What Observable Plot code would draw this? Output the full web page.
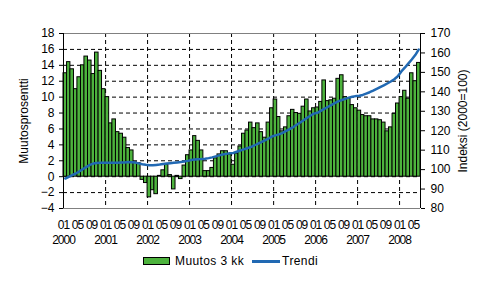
<!DOCTYPE html>
<html><head><meta charset="utf-8">
<script src="https://cdn.jsdelivr.net/npm/d3@7"></script>
<script src="https://cdn.jsdelivr.net/npm/@observablehq/plot@0.6"></script>
<style>
body{margin:0;background:#fff;font-family:"Liberation Sans",Arial,sans-serif;}
#chart{position:relative;width:486px;height:292px;overflow:hidden;}
#legend{position:absolute;left:143px;top:254px;height:14px;display:flex;align-items:center;font-size:12px;color:#000;white-space:nowrap;}
.sw{display:inline-block;width:25px;height:6px;border:1px solid #000;}
.ln{display:inline-block;width:28px;height:3px;}
#chart svg g[aria-label="x-axis tick label"] text{letter-spacing:-1px;}
</style></head><body><div id="chart"></div>
<script>
const startYear = 2000;
const change3m = [
  13.0, 14.4, 13.5, 11.0, 12.5, 14.0, 15.1, 14.6, 12.9, 15.6, 13.3, 11.0,
  10.0, 6.7, 7.2, 5.6, 5.4, 4.9, 3.6, 3.3, 1.8, 1.7, -0.4, -0.8,
  -2.6, -1.7, -2.2, 0.1, 0.8, 1.5, 0.2, -1.6, 0.1, -0.3, 1.4, 2.7,
  3.3, 5.1, 4.5, 3.3, 0.7, 0.7, 1.1, 2.3, 2.8, 3.2, 3.2, 2.8,
  1.5, 2.9, 3.8, 5.4, 5.8, 6.8, 6.1, 6.7, 5.6, 4.9, 6.8, 8.6,
  9.7, 7.5, 5.7, 6.2, 7.6, 8.4, 8.0, 7.9, 8.8, 9.7, 8.2, 8.6,
  8.7, 9.4, 12.1, 9.5, 9.6, 9.8, 12.3, 12.75, 10.0, 9.8, 9.0, 8.6,
  8.3, 7.75, 7.6, 7.6, 7.2, 7.2, 7.1, 6.8, 5.7, 6.2, 7.9, 9.2,
  10.0, 10.8, 9.8, 13.0, 12.0, 14.3
];
const trendIndex = [
  95.4, 96.3, 97.2, 98.0, 99.0, 100.2, 101.3, 102.4, 103.1, 103.4, 103.5, 103.5,
  103.5, 103.5, 103.5, 103.5, 103.6, 103.7, 103.9, 103.8, 103.6, 103.2, 102.8, 102.5,
  102.3, 102.2, 102.4, 102.6, 102.9, 103.1, 103.3, 103.5, 103.7, 103.9, 104.2, 104.5,
  104.9, 105.2, 105.3, 105.4, 105.6, 105.9, 106.3, 106.8, 107.3, 107.8, 108.1, 108.4,
  108.6, 109.2, 109.8, 110.4, 111.0, 111.6, 112.4, 113.3, 114.1, 115.0, 115.9, 117.0,
  117.6, 118.1, 118.8, 119.8, 120.7, 121.7, 122.9, 124.1, 125.3, 126.5, 127.7, 128.8,
  129.2, 130.2, 131.2, 132.2, 133.2, 134.2, 135.1, 135.8, 136.4, 137.0, 137.5, 137.8,
  138.0, 138.4, 139.1, 139.8, 140.6, 141.5, 142.4, 143.3, 144.3, 145.3, 146.5, 148.0,
  150.5, 152.4, 154.5, 156.6, 158.9, 161.8
];
const leftTicks = [-4, -2, 0, 2, 4, 6, 8, 10, 12, 14, 16, 18];
const rightTicks = [80, 90, 100, 110, 120, 130, 140, 150, 160, 170];
const monthTickLabels = ["01", "05", "09"];
const yearLabels = ["2000", "2001", "2002", "2003", "2004", "2005", "2006", "2007", "2008"];
const seriesNames = ["Muutos 3 kk", "Trendi"];
const axisTitles = ["Muutosprosentti", "Indeksi (2000=100)"];
const colors = ["#4DB33D", "#2169B3"];

const leftDomain = [leftTicks[0], leftTicks[leftTicks.length - 1]];
const rightDomain = [rightTicks[0], rightTicks[rightTicks.length - 1]];
const toLeft = v => leftDomain[0] + (v - rightDomain[0]) * (leftDomain[1] - leftDomain[0]) / (rightDomain[1] - rightDomain[0]);
const toRight = v => rightDomain[0] + (v - leftDomain[0]) * (rightDomain[1] - rightDomain[0]) / (leftDomain[1] - leftDomain[0]);

const data = change3m.map((v, i) => {
  const date = new Date(Date.UTC(startYear, i, 1));
  const end = new Date(Date.UTC(startYear, i + 1, 1));
  return {date, end, mid: new Date((+date + +end) / 2), v, t: trendIndex[i]};
});
const x0 = data[0].date, x1 = data[data.length - 1].end;
const monthTicks = data.filter((d, i) => i % 4 === 0).map(d => d.date);
const yearTicks = yearLabels.map(y => new Date(Date.UTC(+y, 0, 1)));
const gridYears = yearTicks.slice(1);

const plot = Plot.plot({
  width: 486, height: 250,
  marginLeft: 63, marginRight: 66, marginTop: 33, marginBottom: 42,
  style: {fontFamily: "'Liberation Sans', Arial, sans-serif", fontSize: "12px", color: "#000", background: "#fff"},
  x: {type: "utc", domain: [x0, x1], label: null},
  y: {domain: leftDomain, label: null},
  marks: [
    Plot.gridY(leftTicks.filter(t => t > leftDomain[0] && t < leftDomain[1]), {stroke: "#000", strokeOpacity: 1, strokeDasharray: "4,3"}),
    Plot.gridX(gridYears, {stroke: "#000", strokeOpacity: 1, strokeDasharray: "4,3"}),
    Plot.rectY(data, {x1: "date", x2: "end", y: "v", fill: colors[0], stroke: "#000", strokeWidth: 1, inset: 0}),
    Plot.line(data, {x: "mid", y: d => toLeft(d.t), stroke: colors[1], strokeWidth: 2.5}),
    Plot.ruleY(leftDomain, {stroke: "#808080"}),
    Plot.ruleX([x0, x1], {y1: leftDomain[0], y2: leftDomain[1], stroke: "#000"}),
    Plot.axisY(leftTicks, {anchor: "left", tickSize: 4, tickPadding: 5, fontSize: 12, label: null}),
    Plot.axisY(rightTicks.map(toLeft), {anchor: "right", tickSize: 4, tickPadding: 6, fontSize: 12, label: null,
      tickFormat: v => String(Math.round(toRight(v)))}),
    Plot.axisX(monthTicks, {tickSize: 0, tickPadding: 12, fontSize: 12, label: null,
      tickFormat: d => monthTickLabels[(d.getUTCMonth() / 4) | 0]}),
    Plot.axisX(yearTicks, {tickSize: 0, tickPadding: 27, fontSize: 12, label: null,
      tickFormat: d => yearLabels[d.getUTCFullYear() - startYear]}),
    Plot.text([axisTitles[0]], {text: d => d, frameAnchor: "left", textAnchor: "middle", dx: -39, rotate: -90, fontSize: 12}),
    Plot.text([axisTitles[1]], {text: d => d, frameAnchor: "right", textAnchor: "middle", dx: 43, rotate: -90, fontSize: 12})
  ]
});
const chart = document.getElementById("chart");
chart.appendChild(plot);
const legend = document.createElement("div");
legend.id = "legend";
legend.innerHTML =
  `<span class="sw" style="background:${colors[0]}"></span><span style="margin-left:5px;letter-spacing:0.4px">${seriesNames[0]}</span>` +
  `<span class="ln" style="background:${colors[1]};margin-left:8px"></span><span style="margin-left:2px;letter-spacing:0.4px">${seriesNames[1]}</span>`;
chart.appendChild(legend);
</script>
</body></html>
